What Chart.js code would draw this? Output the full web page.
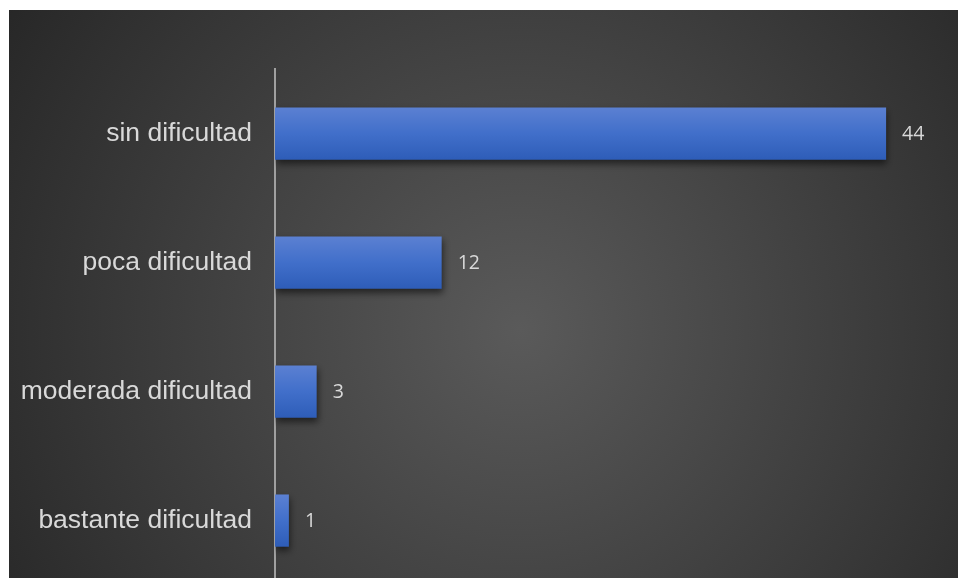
<!DOCTYPE html>
<html>
<head>
<meta charset="utf-8">
<script src="https://cdn.jsdelivr.net/npm/chart.js@4/dist/chart.umd.min.js"></script>
<style>
  html, body { margin: 0; padding: 0; background: #fff; overflow: hidden; }
  body { width: 958px; height: 578px; }
  canvas { display: block; }
</style>
</head>
<body>
<canvas id="myChart" width="958" height="616"></canvas>
<script>
const categories = ['sin dificultad', 'poca dificultad', 'moderada dificultad', 'bastante dificultad'];
const values = [44, 12, 3, 1];

const ctx = document.getElementById('myChart');

// fondo oscuro con degradado radial, dejando el borde blanco arriba/izquierda
const bgPlugin = {
    id: 'bg',
    beforeDraw(chart) {
        const c = chart.ctx;
        const g = c.createRadialGradient(520, 330, 0, 520, 330, 620);
        g.addColorStop(0, '#5a5a5a');
        g.addColorStop(1, '#262626');
        c.save();
        c.fillStyle = g;
        c.fillRect(9, 10, chart.width - 9, chart.height - 10);
        c.restore();
    }
};

const shadowPlugin = {
    id: 'shadow',
    beforeDatasetDraw(chart) {
        const c = chart.ctx;
        c.save();
        c.shadowColor = 'rgba(0,0,0,0.55)';
        c.shadowBlur = 7;
        c.shadowOffsetY = 4;
        c.shadowOffsetX = 1;
    },
    afterDatasetDraw(chart) {
        chart.ctx.restore();
    }
};

const labelPlugin = {
    id: 'valueLabels',
    afterDatasetsDraw(chart) {
        const c = chart.ctx;
        const meta = chart.getDatasetMeta(0);
        c.save();
        c.font = '19.5px "Open Sans"';
        c.fillStyle = '#d9d9d9';
        c.textAlign = 'left';
        c.textBaseline = 'middle';
        meta.data.forEach((bar, i) => {
            c.fillText(values[i], bar.x + 16, bar.y + 1);
        });
        c.restore();
    }
};

let myChart = new Chart(ctx, {
    type: 'bar',
    data: {
        labels: categories,
        datasets: [{
            data: values,
            backgroundColor: function(context) {
                const chart = context.chart;
                const y = chart.scales.y;
                if (!y || context.dataIndex === undefined) return '#4472c4';
                const cy = y.getPixelForValue(context.dataIndex);
                if (!isFinite(cy)) return '#4472c4';
                const g = chart.ctx.createLinearGradient(0, cy - 26, 0, cy + 26);
                g.addColorStop(0, '#5b80d2');
                g.addColorStop(0.5, '#416fca');
                g.addColorStop(1, '#2e5db8');
                return g;
            },
            borderWidth: 0,
            barPercentage: 0.405,
            categoryPercentage: 1
        }]
    },
    options: {
        indexAxis: 'y',
        responsive: false,
        animation: false,
        layout: {
            padding: { top: 69, right: 58, bottom: 0, left: 9 }
        },
        plugins: {
            legend: { display: false },
            tooltip: { enabled: false }
        },
        scales: {
            x: {
                display: false,
                min: 0,
                max: 45
            },
            y: {
                grid: { display: false },
                border: { display: true, color: '#a0a0a0', width: 2 },
                ticks: {
                    color: '#d9d9d9',
                    padding: 15,
                    font: { family: '"Liberation Sans", Arial', size: 26.5 }
                },
                afterFit(scale) {
                    scale.width = 266;
                }
            }
        }
    },
    plugins: [bgPlugin, shadowPlugin, labelPlugin]
});
</script>
</body>
</html>
